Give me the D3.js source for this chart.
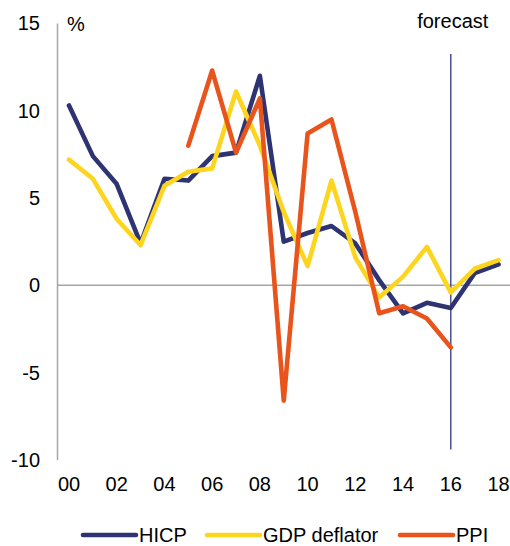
<!DOCTYPE html>
<html>
<head>
<meta charset="utf-8">
<script src="https://cdn.jsdelivr.net/npm/d3@7"></script>
<style>
  html, body { margin: 0; padding: 0; background: #fff; }
  svg { display: block; font-family: "Liberation Sans", Arial, sans-serif; }
</style>
</head>
<body>
<svg id="chart" width="510" height="546"></svg>
<script>
// ---- data ----
const years = d3.range(2000, 2019);
const hicp = [10.3, 7.4, 5.8, 2.4, 6.1, 6.0, 7.4, 7.6, 12.0, 2.5, 3.0, 3.4, 2.4, 0.3, -1.6, -1.0, -1.3, 0.7, 1.2];
const gdpDeflator = [7.2, 6.1, 3.8, 2.3, 5.7, 6.5, 6.7, 11.1, 8.0, 4.2, 1.1, 6.0, 1.6, -0.7, 0.5, 2.2, -0.4, 0.95, 1.45];
const ppi = [null, null, null, null, null, 8.0, 12.3, 7.6, 10.7, -6.6, 8.7, 9.5, 4.2, -1.6, -1.2, -1.9, -3.55, null, null];
const yTicks = [15, 10, 5, 0, -5, -10];
const xTickYears = [2000, 2002, 2004, 2006, 2008, 2010, 2012, 2014, 2016, 2018];
const forecastYear = 2016;
const forecastRange = [13.25, -9.4];
const seriesNames = ["HICP", "GDP deflator", "PPI"];
const seriesColors = ["#2e3372", "#fdd51e", "#e8541b"];

// ---- scales ----
const svg = d3.select("#chart");
const x = d3.scaleLinear().domain([2000, 2018]).range([69, 498.5]);
const y = d3.scaleLinear().domain([-10, 15]).range([460, 23.4]);

// y axis line
svg.append("line")
  .attr("x1", 57.5).attr("x2", 57.5)
  .attr("y1", y(15)).attr("y2", y(-10))
  .attr("stroke", "#a6a6a6").attr("stroke-width", 1.5);

// zero line
svg.append("line")
  .attr("x1", 57.5).attr("x2", 510)
  .attr("y1", y(0)).attr("y2", y(0))
  .attr("stroke", "#a6a6a6").attr("stroke-width", 1.5);

// y tick labels
svg.append("g").selectAll("text").data(yTicks).join("text")
  .attr("x", 40).attr("y", d => y(d) + 7)
  .attr("text-anchor", "end")
  .attr("font-size", 20).attr("fill", "#000")
  .text(d => d);

// x tick labels
svg.append("g").selectAll("text").data(xTickYears).join("text")
  .attr("x", d => x(d)).attr("y", 491)
  .attr("text-anchor", "middle")
  .attr("font-size", 20).attr("fill", "#000")
  .text(d => d3.format("02")(d % 100));

// unit label
svg.append("text").attr("x", 67).attr("y", 31)
  .attr("font-size", 20).attr("fill", "#000").text("%");

// forecast line
svg.append("line")
  .attr("x1", x(forecastYear)).attr("x2", x(forecastYear))
  .attr("y1", y(forecastRange[0])).attr("y2", y(forecastRange[1]))
  .attr("stroke", "#4b5090").attr("stroke-width", 1.5);
svg.append("text").attr("x", x(forecastYear) + 2).attr("y", 28)
  .attr("text-anchor", "middle")
  .attr("font-size", 20).attr("fill", "#000").text("forecast");

// lines
const seriesData = [hicp, gdpDeflator, ppi];
const line = d3.line()
  .defined(d => d.v !== null)
  .x(d => x(d.year)).y(d => y(d.v));
seriesData.forEach((vals, i) => {
  svg.append("path")
    .datum(years.map((yr, j) => ({ year: yr, v: vals[j] })))
    .attr("fill", "none")
    .attr("stroke", seriesColors[i])
    .attr("stroke-width", 4.6)
    .attr("stroke-linejoin", "round")
    .attr("stroke-linecap", "round")
    .attr("d", line);
});

// legend
const legendX = [83, 207, 400];
const lg = svg.append("g");
seriesNames.forEach((name, i) => {
  lg.append("line")
    .attr("x1", legendX[i]).attr("x2", legendX[i] + 53)
    .attr("y1", 535).attr("y2", 535)
    .attr("stroke", seriesColors[i]).attr("stroke-width", 4.6)
    .attr("stroke-linecap", "round");
  lg.append("text")
    .attr("x", legendX[i] + 56).attr("y", 542)
    .attr("font-size", 20).attr("fill", "#000").text(name);
});
</script>
</body>
</html>
